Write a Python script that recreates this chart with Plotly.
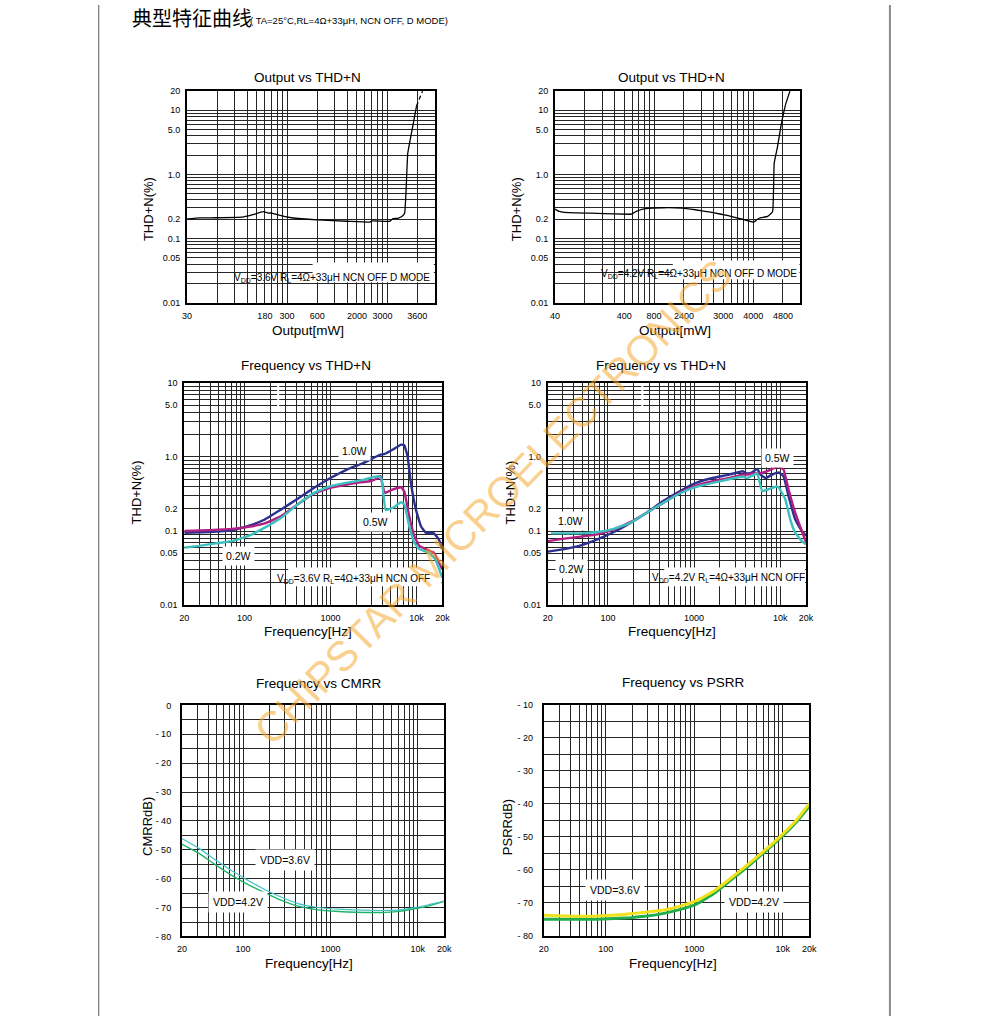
import math
import plotly.graph_objects as go

W, H = 991, 1021

# ---------------- data ----------------
# Output vs THD+N, VDD=3.6V (x: position on the printed log grid, 1..300)
OUT36_X = [1, 1.332, 1.943, 3.555, 4.46, 5.81, 6.5, 7.01, 8.15, 11.03, 20.2, 39.8, 67.6, 70.2, 106,
           114.6, 128, 143.6, 150, 155, 161, 180, 197]
OUT36_THD = [0.202, 0.21, 0.211, 0.215, 0.233, 0.262, 0.25, 0.25, 0.233, 0.211, 0.195, 0.186, 0.18, 0.188,
             0.186, 0.205, 0.207, 0.227, 0.25, 0.58, 2.12, 5.43, 11.6]
OUT36_TAIL_X = [197, 226]
OUT36_TAIL_THD = [11.6, 19.8]
OUT36_TICKS = [1, 6, 10, 20, 50, 90, 200]
OUT36_LABELS = ['30', '180', '300', '600', '2000', '3000', '3600']

# Output vs THD+N, VDD=4.2V
OUT42_X = [1, 1.104, 1.238, 2.65, 5.69, 5.9, 6.62, 7.71, 9.7, 12.2, 19.3, 26.1, 38.3, 56, 76, 95.5,
           101.5, 111.3, 120, 140, 157, 163, 176, 190, 213, 235]
OUT42_THD = [0.288, 0.265, 0.256, 0.247, 0.239, 0.241, 0.265, 0.288, 0.298, 0.302, 0.298, 0.281, 0.256,
             0.227, 0.202, 0.184, 0.18, 0.202, 0.211, 0.222, 0.262, 1.49, 2.68, 5.43, 12.4, 19.8]
OUT42_TICKS = [1, 5, 10, 20, 50, 100, 200]
OUT42_LABELS = ['40', '400', '800', '2400', '3000', '4000', '4800']

THD_OUT_YTICKS = [0.01, 0.05, 0.1, 0.2, 1, 5, 10, 20]
THD_OUT_YLABELS = ['0.01', '0.05', '0.1', '0.2', '1.0', '5.0', '10', '20']

# Frequency vs THD+N, VDD=3.6V
F36_10_HZ = [20, 38.6, 71.5, 111, 172, 267, 415, 644, 998, 1549, 2404, 3731, 4260, 5310, 6610, 7210,
             7860, 8580, 9810, 11200, 12770, 15900, 18150, 19800]
F36_10_THD = [0.095, 0.097, 0.102, 0.117, 0.143, 0.196, 0.272, 0.383, 0.52, 0.676, 0.83, 1.07, 1.1, 1.26,
              1.47, 1.44, 1.02, 0.447, 0.196, 0.117, 0.095, 0.093, 0.077, 0.057]
F36_05_HZ = [20, 38.6, 71.5, 111, 172, 267, 415, 644, 998, 1549, 2203, 2866, 3570, 3810, 4260, 5310,
             6610, 7210, 8210, 9390, 10740, 12770, 15900, 19800]
F36_05_THD = [0.1, 0.103, 0.107, 0.114, 0.127, 0.159, 0.229, 0.321, 0.383, 0.425, 0.455, 0.47, 0.52, 0.55,
              0.328, 0.365, 0.39, 0.34, 0.159, 0.086, 0.063, 0.057, 0.051, 0.0305]
F36_02_HZ = [20, 29.7, 46.1, 71.5, 111, 172, 267, 415, 644, 998, 1549, 2404, 2866, 3570, 3900, 4370,
             5310, 6610, 7210, 8210, 9390, 10740, 13800, 16400, 19800]
F36_02_THD = [0.0597, 0.063, 0.068, 0.073, 0.086, 0.111, 0.151, 0.229, 0.328, 0.403, 0.45, 0.49, 0.52,
              0.55, 0.52, 0.192, 0.206, 0.245, 0.229, 0.117, 0.07, 0.057, 0.051, 0.042, 0.0235]

# Frequency vs THD+N, VDD=4.2V
F42_NAVY_HZ = [20, 31.1, 48.3, 75.1, 117, 182, 282, 438, 682, 1059, 1646, 2559, 3646, 4160, 4745, 5420,
               5920, 6760, 8060, 9600, 10970, 12530, 14950, 17840, 20000]
F42_NAVY_THD = [0.0527, 0.057, 0.064, 0.077, 0.097, 0.129, 0.177, 0.254, 0.345, 0.447, 0.52, 0.578, 0.641,
                0.6, 0.62, 0.69, 0.578, 0.52, 0.578, 0.62, 0.55, 0.296, 0.144, 0.1, 0.086]
F42_MAG_HZ = [20, 31.1, 48.3, 75.1, 117, 182, 282, 438, 682, 1059, 1646, 2559, 3646, 4160, 4745, 5800,
              7230, 8600, 9600, 10970, 12530, 14950, 17840, 20000]
F42_MAG_THD = [0.073, 0.079, 0.084, 0.09, 0.105, 0.132, 0.177, 0.24, 0.328, 0.411, 0.471, 0.52, 0.578,
               0.578, 0.6, 0.6, 0.65, 0.71, 0.748, 0.676, 0.364, 0.177, 0.1, 0.07]
F42_TEAL_HZ = [21.8, 48.3, 75.1, 117, 182, 282, 438, 682, 1059, 1646, 2559, 3646, 4160, 4745, 5420, 6190,
               7230, 9000, 9600, 11500, 13100, 14950, 17840, 20000]
F42_TEAL_THD = [0.093, 0.093, 0.097, 0.107, 0.129, 0.177, 0.24, 0.321, 0.394, 0.447, 0.5, 0.54, 0.52,
                0.56, 0.6, 0.345, 0.364, 0.4, 0.39, 0.267, 0.144, 0.095, 0.073, 0.066]

FREQ_TICKS = [20, 100, 1000, 10000, 20000]
FREQ_LABELS = ['20', '100', '1000', '10k', '20k']
THD_F_YTICKS = [0.01, 0.05, 0.1, 0.2, 1, 5, 10]
THD_F_YLABELS = ['0.01', '0.05', '0.1', '0.2', '1.0', '5.0', '10']

# Frequency vs CMRR
CMRR_HZ = [20, 31.4, 48.5, 75, 115.7, 178.6, 276, 426, 657, 1013, 1563, 2412, 3720, 5740, 8860, 13670, 20000]
CMRR_36 = [-46.1, -49.5, -53.5, -57.3, -60.7, -63.8, -66.4, -68.6, -69.8, -70.4, -70.7, -70.9, -71.0,
           -70.9, -70.1, -68.9, -67.8]
CMRR_42 = [-48.0, -51.2, -55.2, -58.9, -62.1, -64.9, -67.5, -69.5, -70.6, -71.2, -71.5, -71.7, -71.7,
           -71.4, -70.5, -69.3, -67.8]
CMRR_YTICKS = [0, -10, -20, -30, -40, -50, -60, -70, -80]
CMRR_YLABELS = ['0', '- 10', '- 20', '- 30', '- 40', '- 50', '- 60', '- 70', '- 80']

# Frequency vs PSRR
PSRR_HZ = [20, 34.1, 80.9, 191.5, 295, 453, 698, 1075, 1655, 2550, 3920, 6030, 9290, 14300, 20000]
PSRR_36 = [-73.8, -74.0, -74.0, -73.3, -72.8, -72.2, -71.0, -69.3, -66.5, -62.7, -58.7, -54.5, -50.0,
           -45.0, -40.0]
PSRR_42 = [-75.0, -75.0, -75.0, -74.5, -74.0, -73.2, -72.0, -70.3, -67.3, -63.3, -59.3, -55.0, -50.5,
           -45.5, -40.7]
PSRR_YTICKS = [-10, -20, -30, -40, -50, -60, -70, -80]
PSRR_YLABELS = ['- 10', '- 20', '- 30', '- 40', '- 50', '- 60', '- 70', '- 80']

# ---------------- styling helpers ----------------
GRID = '#262626'
NAVY, MAGENTA, TEAL = '#2b2f8e', '#b21f83', '#3cbfbf'
FONT = 'Liberation Sans, Arial, sans-serif'
TICK_FONT = dict(family='Liberation Sans Narrow, Liberation Sans, Arial', size=9, color='black')


def log_grid(lo_exp, hi_exp, extra=()):
    vals = []
    for e in range(lo_exp, hi_exp):
        for m in range(1, 10):
            vals.append(round(m * 10 ** e, 6))
    return vals + list(extra)


# pixel boxes of each plotting area: (x0, x1, y0, y1)
BOX = {
    1: (184.5, 435.5, 86.7, 300.7),
    2: (557.3, 806.0, 86.7, 300.7),
    3: (181.7, 443.3, 381.7, 606.0),
    4: (550.0, 811.7, 381.7, 606.0),
    5: (179.3, 445.0, 707.3, 940.7),
    6: (546.0, 815.0, 706.7, 940.0),
}
OUT_XR = [0, math.log10(300)]
OUT_YR = [-2, math.log10(20)]
F_XR = [math.log10(20), math.log10(20000)]
THD_F_YR = [-2, 1]
RANGES = {
    1: ('log', OUT_XR, 'log', OUT_YR),
    2: ('log', OUT_XR, 'log', OUT_YR),
    3: ('log', F_XR, 'log', THD_F_YR),
    4: ('log', F_XR, 'log', THD_F_YR),
    5: ('log', F_XR, 'linear', [-80, 0]),
    6: ('log', F_XR, 'linear', [-80, -10]),
}


def px(x):
    return x / W


def py(y):
    return 1 - y / H


def axis(k, which, tickvals, ticktext, grid, standoff=3):
    x0, x1, y0, y1 = BOX[k]
    xt, xr, yt, yr = RANGES[k]
    typ, rng = (xt, xr) if which == 'x' else (yt, yr)
    dom = [px(x0), px(x1)] if which == 'x' else [py(y1), py(y0)]
    d = dict(domain=dom, type=typ, range=rng, tickmode='array', tickvals=tickvals, ticktext=ticktext,
             showgrid=True, gridcolor=GRID, gridwidth=1, showline=True, linecolor='black', linewidth=2,
             mirror=True, ticks='', tickfont=TICK_FONT, zeroline=False, fixedrange=True,
             ticklabelstandoff=standoff,
             minor=dict(tickmode='array', tickvals=grid, showgrid=True, gridcolor=GRID, gridwidth=1, ticks=''))
    suffix = '' if k == 1 else str(k)
    d['anchor'] = ('y' if which == 'x' else 'x') + suffix
    return d


OUT_X_GRID = log_grid(0, 2, [100, 200])
OUT_Y_GRID = log_grid(-2, 1, [10, 20])
F_GRID = [20, 30, 40, 50, 60, 70, 80, 90] + log_grid(2, 4, [10000, 20000])
THD_F_GRID = log_grid(-2, 1, [10])
DB_GRID = list(range(-80, 1, 5))

layout = dict(
    width=W, height=H, margin=dict(l=0, r=0, t=0, b=0), paper_bgcolor='white', plot_bgcolor='white',
    showlegend=False, font=dict(family=FONT, color='black'),
    xaxis=axis(1, 'x', OUT36_TICKS, OUT36_LABELS, OUT_X_GRID),
    yaxis=axis(1, 'y', THD_OUT_YTICKS, THD_OUT_YLABELS, OUT_Y_GRID),
    xaxis2=axis(2, 'x', OUT42_TICKS, OUT42_LABELS, OUT_X_GRID),
    yaxis2=axis(2, 'y', THD_OUT_YTICKS, THD_OUT_YLABELS, OUT_Y_GRID),
    xaxis3=axis(3, 'x', FREQ_TICKS, FREQ_LABELS, F_GRID),
    yaxis3=axis(3, 'y', THD_F_YTICKS, THD_F_YLABELS, THD_F_GRID),
    xaxis4=axis(4, 'x', FREQ_TICKS, FREQ_LABELS, F_GRID),
    yaxis4=axis(4, 'y', THD_F_YTICKS, THD_F_YLABELS, THD_F_GRID),
    xaxis5=axis(5, 'x', FREQ_TICKS, FREQ_LABELS, F_GRID),
    yaxis5=axis(5, 'y', CMRR_YTICKS, CMRR_YLABELS, DB_GRID, standoff=7),
    xaxis6=axis(6, 'x', FREQ_TICKS, FREQ_LABELS, F_GRID),
    yaxis6=axis(6, 'y', PSRR_YTICKS, PSRR_YLABELS, DB_GRID, standoff=7),
)

fig = go.Figure(layout=layout)


def pix_to_data(k, xpix, ypix):
    x0, x1, y0, y1 = BOX[k]
    xt, xr, yt, yr = RANGES[k]
    xv = xr[0] + (xpix - x0) / (x1 - x0) * (xr[1] - xr[0])
    yv = yr[0] + (y1 - ypix) / (y1 - y0) * (yr[1] - yr[0])
    if xt == 'log':
        xv = 10 ** xv
    if yt == 'log':
        yv = 10 ** yv
    return xv, yv


def white_box(k, xa, xb, ya, yb):
    """white background patch (drawn above the grid, below the curves)"""
    (dx0, dy0), (dx1, dy1) = pix_to_data(k, xa, yb), pix_to_data(k, xb, ya)
    s = '' if k == 1 else str(k)
    fig.add_trace(go.Scatter(x=[dx0, dx1, dx1, dx0, dx0], y=[dy0, dy0, dy1, dy1, dy0], mode='lines',
                             fill='toself', fillcolor='white', line=dict(width=0, color='white'),
                             xaxis='x' + s, yaxis='y' + s, hoverinfo='skip'))


white_box(1, 311.7, 434.5, 260, 280)
white_box(2, 676.7, 805, 258, 277)
white_box(3, 287, 442.3, 568, 587)
white_box(4, 668, 810.7, 568, 587)
white_box(3, 275.8, 277.8, 382.7, 405)
white_box(4, 644.8, 646.8, 382.7, 405)


def line(x, y, k, color, width, dash='solid'):
    s = '' if k == 1 else str(k)
    fig.add_trace(go.Scatter(x=x, y=y, mode='lines', xaxis='x' + s, yaxis='y' + s,
                             line=dict(color=color, width=width, dash=dash, shape='spline', smoothing=0.3),
                             hoverinfo='skip'))


line(OUT36_X, OUT36_THD, 1, 'black', 1.3)
line(OUT36_TAIL_X, OUT36_TAIL_THD, 1, 'black', 1.3, dash='4px,3px')
line(OUT42_X, OUT42_THD, 2, 'black', 1.3)

line(F36_10_HZ, F36_10_THD, 3, NAVY, 2.4)
line(F36_05_HZ, F36_05_THD, 3, MAGENTA, 2.4)
line(F36_02_HZ, F36_02_THD, 3, TEAL, 2.4)

line(F42_NAVY_HZ, F42_NAVY_THD, 4, NAVY, 2.4)
line(F42_MAG_HZ, F42_MAG_THD, 4, MAGENTA, 2.4)
line(F42_TEAL_HZ, F42_TEAL_THD, 4, TEAL, 2.4)

line(CMRR_HZ, CMRR_42, 5, '#1fb46a', 1.4)
line(CMRR_HZ, CMRR_36, 5, '#45c3c8', 1.2)

line(PSRR_HZ, PSRR_42, 6, '#22ad4c', 3)
line(PSRR_HZ, PSRR_36, 6, '#f0e21a', 3)

# page margin rules
fig.update_layout(shapes=[
    dict(type='line', xref='paper', yref='paper', x0=px(95), x1=px(95), y0=0, y1=1,
         line=dict(color='#5a5a5a', width=1)),
    dict(type='line', xref='paper', yref='paper', x0=px(896.7), x1=px(896.7), y0=0, y1=1,
         line=dict(color='#8c8c8c', width=2)),
])

# ---------------- text ----------------
ann = []


def text(t, x, y, size, angle=0, xanchor='center', family=FONT, bg=None, pad=1, color='black'):
    a = dict(text=t, x=px(x), y=py(y), xref='paper', yref='paper', showarrow=False, xanchor=xanchor,
             yanchor='middle', textangle=angle, font=dict(family=family, size=size, color=color), borderpad=pad)
    if bg:
        a['bgcolor'] = bg
    ann.append(a)


text('典型特征曲线', 127, 13, 20, xanchor='left', family='Noto Sans CJK SC')
text('( TA=25°C,RL=4Ω+33μH, NCN OFF, D MODE)', 246, 16, 9.5, xanchor='left')

for t, x, y in [('Output vs THD+N', 306.7, 73.3), ('Output vs THD+N', 675, 73.3),
                ('Frequency vs THD+N', 305, 364), ('Frequency vs THD+N', 665, 364),
                ('Frequency vs CMRR', 318, 685.7), ('Frequency vs PSRR', 688, 684)]:
    text(t, x, y, 13.5)

for t, x, y in [('Output[mW]', 306.7, 328.3), ('Output[mW]', 679, 328.3),
                ('Frequency[Hz]', 306.7, 632.7), ('Frequency[Hz]', 675.7, 632.7),
                ('Frequency[Hz]', 308, 968), ('Frequency[Hz]', 676.7, 968)]:
    text(t, x, y, 13.5)

for t, x, y in [('THD+N(%)', 146, 206), ('THD+N(%)', 519, 206), ('THD+N(%)', 133, 492),
                ('THD+N(%)', 512, 492), ('CMRRdB)', 145, 830), ('PSRRdB)', 510, 830)]:
    text(t, x, y, 13, angle=-90)

NOTE_SIZE = 10
text('V<sub>DD</sub>=3.6V R<sub>L</sub>=4Ω+33μH NCN OFF D MODE', 331.7, 276, NOTE_SIZE)
text('V<sub>DD</sub>=4.2V R<sub>L</sub>=4Ω+33μH NCN OFF D MODE', 703, 271.5, NOTE_SIZE)
text('V<sub>DD</sub>=3.6V R<sub>L</sub>=4Ω+33μH NCN OFF', 353, 579.5, NOTE_SIZE)
text('V<sub>DD</sub>=4.2V R<sub>L</sub>=4Ω+33μH NCN OFF', 733, 579, NOTE_SIZE)

for t, x, y in [('1.0W', 354, 450.7), ('0.5W', 375, 521.7), ('0.2W', 237, 556.7),
                ('0.5W', 783, 457), ('1.0W', 573, 521), ('0.2W', 574, 570)]:
    text(t, x, y, 10.5, bg='white', pad=3)

for t, x, y in [('VDD=3.6V', 284, 863.3), ('VDD=4.2V', 236, 905.7),
                ('VDD=3.6V', 617.7, 894), ('VDD=4.2V', 759.3, 905.7)]:
    text(t, x, y, 10.5, bg='white', pad=4)

# watermark
text('CHIPSTAR MICROELECTRONICS', 494, 502, 42, angle=-45.5, color='rgba(247,168,45,0.55)')

fig.update_layout(annotations=ann)

fig.write_html("out.html", config={'displayModeBar': False},
               post_script="document.body.style.margin='0';document.body.style.overflow='hidden';")
